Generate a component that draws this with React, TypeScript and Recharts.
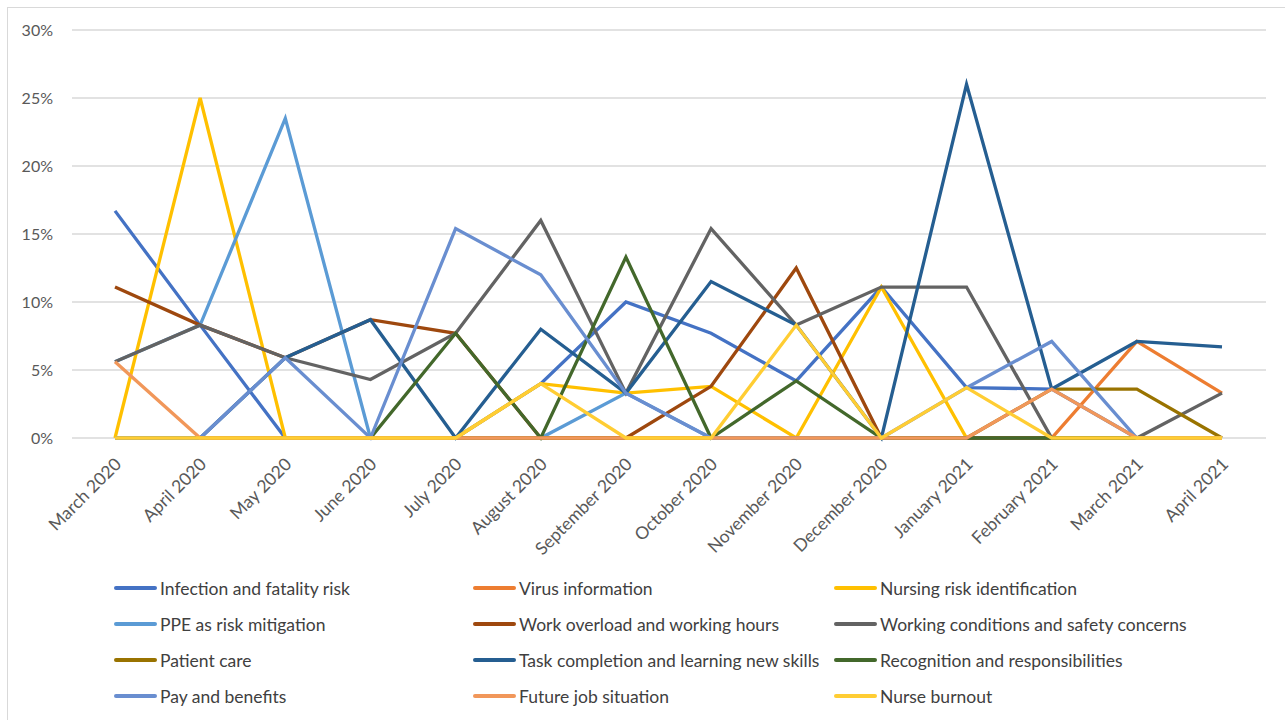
import React from 'react';
import { LineChart, Line, XAxis, YAxis, CartesianGrid } from 'recharts';

const months = [
  'March 2020', 'April 2020', 'May 2020', 'June 2020', 'July 2020', 'August 2020',
  'September 2020', 'October 2020', 'November 2020', 'December 2020',
  'January 2021', 'February 2021', 'March 2021', 'April 2021',
];

// share of posts per theme, in percent
const infection = [16.7, 8.3, 0, 0, 0, 4.0, 10.0, 7.7, 4.2, 11.1, 3.7, 3.6, 0, 0];
const virusInfo = [0, 0, 0, 0, 0, 0, 0, 0, 0, 0, 0, 0, 7.1, 3.3];
const nursingRisk = [0, 25.0, 0, 0, 0, 4.0, 3.3, 3.8, 0, 11.1, 0, 0, 0, 0];
const ppe = [5.6, 8.3, 23.5, 0, 0, 0, 3.3, 0, 0, 0, 0, 0, 0, 0];
const workOverload = [11.1, 8.3, 5.9, 8.7, 7.7, 0, 0, 3.8, 12.5, 0, 0, 0, 0, 0];
const workingConditions = [5.6, 8.3, 5.9, 4.3, 7.7, 16.0, 3.3, 15.4, 8.3, 11.1, 11.1, 0, 0, 3.3];
const patientCare = [0, 0, 0, 0, 0, 0, 0, 0, 0, 0, 0, 3.6, 3.6, 0];
const taskCompletion = [0, 0, 5.9, 8.7, 0, 8.0, 3.3, 11.5, 8.3, 0, 26.0, 3.6, 7.1, 6.7];
const recognition = [0, 0, 0, 0, 7.7, 0, 13.3, 0, 4.2, 0, 0, 0, 0, 0];
const payBenefits = [0, 0, 5.9, 0, 15.4, 12.0, 3.3, 0, 0, 0, 3.7, 7.1, 0, 0];
const futureJob = [5.6, 0, 0, 0, 0, 0, 0, 0, 0, 0, 0, 3.6, 0, 0];
const burnout = [0, 0, 0, 0, 0, 4.0, 0, 0, 8.3, 0, 3.7, 0, 0, 0];

const yTicks = [0, 5, 10, 15, 20, 25, 30];

const series = [
  { key: 'infection', name: 'Infection and fatality risk', color: '#4472C4', values: infection },
  { key: 'virusInfo', name: 'Virus information', color: '#ED7D31', values: virusInfo },
  { key: 'nursingRisk', name: 'Nursing risk identification', color: '#FFC000', values: nursingRisk },
  { key: 'ppe', name: 'PPE as risk mitigation', color: '#5B9BD5', values: ppe },
  { key: 'workOverload', name: 'Work overload and working hours', color: '#9E480E', values: workOverload },
  { key: 'workingConditions', name: 'Working conditions and safety concerns', color: '#636363', values: workingConditions },
  { key: 'patientCare', name: 'Patient care', color: '#997300', values: patientCare },
  { key: 'taskCompletion', name: 'Task completion and learning new skills', color: '#255E91', values: taskCompletion },
  { key: 'recognition', name: 'Recognition and responsibilities', color: '#43682B', values: recognition },
  { key: 'payBenefits', name: 'Pay and benefits', color: '#698ED0', values: payBenefits },
  { key: 'futureJob', name: 'Future job situation', color: '#F1975A', values: futureJob },
  { key: 'burnout', name: 'Nurse burnout', color: '#FFCD33', values: burnout },
];

const chartData = months.map((month, i) => {
  const row: Record<string, string | number> = { month };
  series.forEach((s) => {
    row[s.key] = s.values[i];
  });
  return row;
});

const FONT = 'Lato, "Open Sans", sans-serif';

function MonthTick(props: any) {
  const { x, y, payload } = props;
  const tx = x + 3;
  const ty = y + 15;
  return (
    <text
      x={tx}
      y={ty}
      transform={`rotate(-45, ${tx}, ${ty})`}
      textAnchor="end"
      dy="0.35em"
      fill="#595959"
      fontSize={17.5}
      fontFamily={FONT}
    >
      {payload.value}
    </text>
  );
}

const legendCols = [114, 473, 834];
const legendRows = [588, 624, 660, 696];

export default function App() {
  return (
    <div style={{ position: 'absolute', left: 0, top: 0, width: 1285, height: 720, background: '#fff', overflow: 'hidden' }}>
      <div
        style={{
          position: 'absolute', left: 7, top: 7, width: 1278, height: 713,
          borderTop: '1px solid #d9d9d9', borderLeft: '1px solid #d9d9d9', boxSizing: 'border-box',
        }}
      />
      <div style={{ position: 'absolute', left: 0, top: 0 }}>
        <LineChart
          width={1285}
          height={560}
          data={chartData}
          margin={{ top: 30, right: 19, left: 7, bottom: 0 }}
        >
          <CartesianGrid vertical={false} stroke="#d9d9d9" strokeWidth={1.5} />
          <XAxis
            dataKey="month"
            interval={0}
            height={122}
            padding={{ left: 43, right: 44 }}
            axisLine={false}
            tickLine={false}
            tick={<MonthTick />}
          />
          <YAxis
            width={65}
            domain={[0, 30]}
            ticks={yTicks}
            tickFormatter={(v: number) => `${v}%`}
            axisLine={false}
            tickLine={false}
            tickMargin={13}
            tick={{ fill: '#595959', fontSize: 16, fontFamily: FONT }}
          />
          {series.map((s) => (
            <Line
              key={s.key}
              dataKey={s.key}
              name={s.name}
              type="linear"
              stroke={s.color}
              strokeWidth={3.3}
              dot={false}
              isAnimationActive={false}
            />
          ))}
        </LineChart>
      </div>
      {series.map((s, i) => {
        const left = legendCols[i % 3];
        const top = legendRows[Math.floor(i / 3)];
        return (
          <div
            key={s.key}
            style={{
              position: 'absolute', left, top: top - 12, height: 24,
              display: 'flex', alignItems: 'center', whiteSpace: 'nowrap',
            }}
          >
            <span style={{ display: 'inline-block', width: 43, height: 4, borderRadius: 2, background: s.color }} />
            <span style={{ marginLeft: 3, fontFamily: FONT, fontSize: 17.5, color: '#404040' }}>{s.name}</span>
          </div>
        );
      })}
    </div>
  );
}
